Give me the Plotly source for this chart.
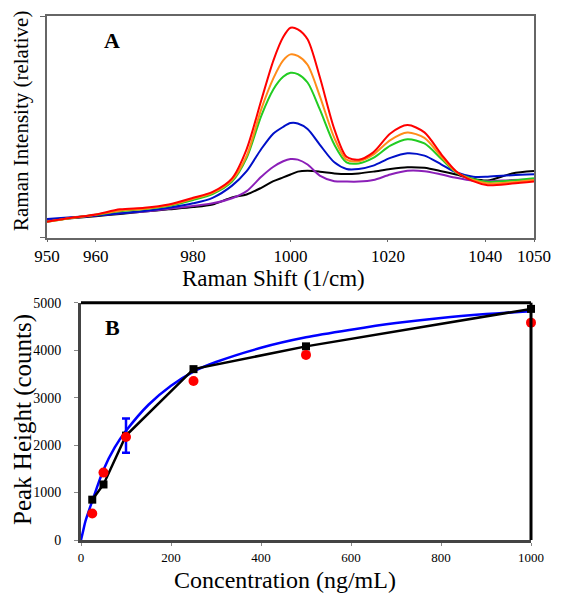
import plotly.graph_objects as go

# ---------------- Panel A data (relative Raman intensity) ----------------
wavenumber = [950, 955, 960, 965, 970, 975, 980, 984, 988, 991, 994, 996.5, 998.5, 1000,
              1001.5, 1003.5, 1006, 1009, 1011.5, 1014, 1017, 1020.5, 1024, 1027.5, 1031,
              1034, 1037.5, 1040.5, 1045.5, 1050]

spec_red = [0.072, 0.09, 0.105, 0.128, 0.135, 0.15, 0.18, 0.207, 0.268, 0.40, 0.62, 0.80, 0.905,
            0.947, 0.94, 0.895, 0.726, 0.49, 0.365, 0.352, 0.385, 0.47, 0.508, 0.475, 0.375,
            0.30, 0.255, 0.237, 0.244, 0.253]
spec_orange = [0.072, 0.089, 0.104, 0.122, 0.131, 0.146, 0.176, 0.202, 0.26, 0.37, 0.58, 0.72,
               0.80, 0.827, 0.82, 0.78, 0.64, 0.45, 0.352, 0.345, 0.375, 0.44, 0.474, 0.45,
               0.365, 0.297, 0.26, 0.245, 0.25, 0.26]
spec_green = [0.072, 0.089, 0.103, 0.119, 0.129, 0.143, 0.17, 0.197, 0.253, 0.36, 0.55, 0.67,
              0.726, 0.744, 0.738, 0.70, 0.58, 0.42, 0.34, 0.335, 0.36, 0.415, 0.444, 0.425,
              0.355, 0.295, 0.265, 0.252, 0.258, 0.268]
spec_blue = [0.084, 0.092, 0.10, 0.11, 0.12, 0.135, 0.155, 0.18, 0.235, 0.30, 0.40, 0.47,
             0.50, 0.517, 0.515, 0.49, 0.42, 0.34, 0.31, 0.31, 0.325, 0.36, 0.381, 0.37,
             0.33, 0.295, 0.275, 0.275, 0.282, 0.286]
spec_purple = [0.08, 0.09, 0.10, 0.11, 0.118, 0.13, 0.143, 0.155, 0.178, 0.21, 0.275, 0.32,
               0.345, 0.355, 0.352, 0.33, 0.28, 0.255, 0.253, 0.253, 0.26, 0.285, 0.302, 0.30,
               0.285, 0.27, 0.257, 0.255, 0.26, 0.262]
spec_black = [0.078, 0.088, 0.097, 0.107, 0.118, 0.128, 0.138, 0.15, 0.182, 0.195, 0.225, 0.255,
              0.272, 0.285, 0.298, 0.302, 0.298, 0.29, 0.287, 0.29, 0.298, 0.31, 0.318, 0.315,
              0.30, 0.285, 0.265, 0.258, 0.29, 0.301]

spectra = [
    ("black", spec_black, "#000000"),
    ("purple", spec_purple, "#8B1FB8"),
    ("blue", spec_blue, "#0010C8"),
    ("green", spec_green, "#22CC22"),
    ("orange", spec_orange, "#FF8C1A"),
    ("red", spec_red, "#FF0000"),
]

xticks_a = [950, 960, 980, 1000, 1020, 1040, 1050]

# ---------------- Panel B data ----------------
conc = [25, 50, 100, 250, 500, 1000]
peak_black = [850, 1170, 2200, 3600, 4080, 4870]
peak_red = [560, 1420, 2170, 3350, 3900, 4580]

fit_conc = [0, 5, 10, 25, 50, 75, 100, 150, 200, 250, 300, 400, 500, 600, 700, 800, 900, 1000]
fit_peak = [0, 200, 400, 820, 1480, 1950, 2300, 2850, 3250, 3550, 3750, 4050, 4270, 4430,
            4570, 4680, 4760, 4820]

err_conc = [100]
err_peak = [2200]
err_size = [360]

font_family = "Liberation Serif"

fig = go.Figure()

for name, ys, col in spectra:
    fig.add_trace(go.Scatter(x=wavenumber, y=ys, mode="lines", name=name,
                             line=dict(color=col, width=2, shape="spline", smoothing=0.8),
                             xaxis="x", yaxis="y", showlegend=False))

fig.add_trace(go.Scatter(x=fit_conc, y=fit_peak, mode="lines",
                         line=dict(color="#0000FF", width=2.5, shape="spline", smoothing=0.8),
                         xaxis="x2", yaxis="y2", showlegend=False))
fig.add_trace(go.Scatter(x=conc, y=peak_black, mode="lines+markers",
                         line=dict(color="black", width=2.5),
                         marker=dict(symbol="square", size=8, color="black"),
                         xaxis="x2", yaxis="y2", showlegend=False, cliponaxis=False))
fig.add_trace(go.Scatter(x=err_conc, y=err_peak, mode="markers",
                         marker=dict(size=1, color="rgba(0,0,255,0)"),
                         error_y=dict(type="data", array=err_size, color="#0000FF",
                                      thickness=2.5, width=4),
                         xaxis="x2", yaxis="y2", showlegend=False))
fig.add_trace(go.Scatter(x=conc, y=peak_red, mode="markers",
                         marker=dict(symbol="circle", size=10, color="#FF0000"),
                         xaxis="x2", yaxis="y2", showlegend=False, cliponaxis=False))

# The page adds an 8px body margin, so figure coords = page coords - 8
OFF = 8
W, H = 545, 586


def px(x):
    return (x - OFF) / W


def py(y):
    return 1 - (y - OFF) / H


fig.update_layout(
    width=W, height=H,
    margin=dict(l=0, r=0, t=0, b=0, autoexpand=False),
    paper_bgcolor="white", plot_bgcolor="white",
    font=dict(family=font_family, color="black"),
    xaxis=dict(domain=[px(47), px(534)], range=[950, 1050], tickvals=xticks_a,
               ticks="outside", ticklen=2, tickcolor="#666", tickfont=dict(size=17),
               showgrid=False, zeroline=False, showline=True, linecolor="#666",
               linewidth=2, mirror=True, anchor="y", automargin=False),
    yaxis=dict(domain=[py(237.7), py(16)], range=[0, 1], tickvals=[0, 1],
               showticklabels=False, ticks="outside", ticklen=5, tickcolor="#666",
               showgrid=False, zeroline=False, showline=True, linecolor="#666",
               linewidth=2, mirror=True, anchor="x", automargin=False),
    xaxis2=dict(domain=[px(81), px(531)], range=[0, 1000], tickvals=[0, 200, 400, 600, 800, 1000],
                ticks="outside", ticklen=3, tickcolor="#888", tickfont=dict(size=13),
                showgrid=False, zeroline=False, showline=True, linecolor="#444",
                linewidth=3, anchor="y2", automargin=False),
    yaxis2=dict(domain=[py(540), py(302.7)], range=[0, 5000],
                tickvals=[0, 1000, 2000, 3000, 4000, 5000],
                ticks="outside", ticklen=4, tickcolor="#888", tickfont=dict(size=14),
                ticklabelstandoff=10,
                showgrid=False, zeroline=False, showline=True, linecolor="#444",
                linewidth=3, anchor="x2", automargin=False),
    shapes=[
        dict(type="line", xref="x2 domain", yref="y2 domain", x0=0, x1=1, y0=1, y1=1,
             line=dict(color="black", width=3)),
        dict(type="line", xref="x2 domain", yref="y2 domain", x0=1, x1=1, y0=0, y1=1,
             line=dict(color="black", width=3)),
    ],
    annotations=[
        dict(text="Raman Shift (1/cm)", xref="paper", yref="paper", x=px(273), y=py(278),
             xanchor="center", yanchor="middle", showarrow=False, font=dict(size=23)),
        dict(text="Raman Intensity (relative)", xref="paper", yref="paper", x=px(21), y=py(121),
             xanchor="center", yanchor="middle", textangle=-90, showarrow=False,
             font=dict(size=21)),
        dict(text="Concentration (ng/mL)", xref="paper", yref="paper", x=px(285), y=py(580),
             xanchor="center", yanchor="middle", showarrow=False, font=dict(size=24)),
        dict(text="Peak Height (counts)", xref="paper", yref="paper", x=px(23), y=py(420),
             xanchor="center", yanchor="middle", textangle=-90, showarrow=False,
             font=dict(size=25)),
        dict(text="<b>A</b>", xref="paper", yref="paper", x=px(112), y=py(40),
             xanchor="center", yanchor="middle", showarrow=False, font=dict(size=22)),
        dict(text="<b>B</b>", xref="paper", yref="paper", x=px(112), y=py(327),
             xanchor="center", yanchor="middle", showarrow=False, font=dict(size=22)),
    ],
)

fig.write_html("out.html")
